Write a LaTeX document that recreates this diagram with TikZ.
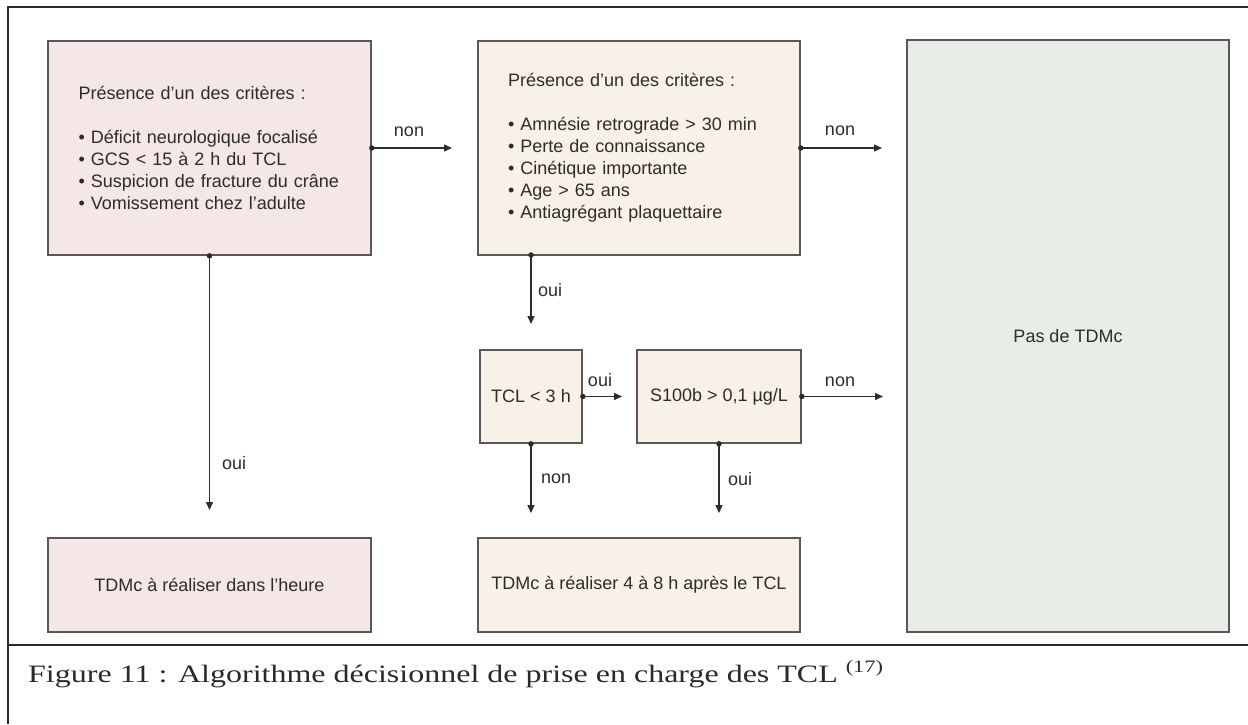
\documentclass[tikz,border=0pt]{standalone}
\usepackage{fontspec}
\setmainfont{Liberation Sans}
\newfontfamily\capfont[FakeStretch=1.28]{Liberation Serif}
\usetikzlibrary{arrows.meta,calc}
\definecolor{pinkfill}{HTML}{F4E7E5}
\definecolor{creamfill}{HTML}{F8F1E7}
\definecolor{greenfill}{HTML}{E8EDE6}
\definecolor{boxline}{HTML}{585858}
\definecolor{txt}{HTML}{2C2C2C}
\definecolor{framecol}{HTML}{2A2A2A}
\begin{document}
\begin{tikzpicture}[x=1pt,y=-1pt,
  box/.style={draw=boxline,line width=1.7pt,inner sep=0pt,text=txt,
    font=\fontsize{18}{22}\selectfont},
  conn/.style={draw=txt,line width=1.4pt,-{Triangle[length=8pt,width=7pt]}},
  lbl/.style={text=txt,font=\fontsize{18}{22}\selectfont,inner sep=0pt},
  dotmark/.style={circle,fill=txt,inner sep=0pt,minimum size=5.5pt},
  framel/.style={draw=framecol,line width=2pt}]
\useasboundingbox (0,0) rectangle (1248,724);
% frame
\coordinate (f0) at (1248,7);
\coordinate (f1) at (8,7);
\coordinate (f2) at (8,724);
\coordinate (d0) at (8,645);
\coordinate (d1) at (1248,645);
\draw[framel] (f0) -- (f1) -- (f2);
\draw[framel] (d0) -- (d1);
% boxes
\node[box,fill=pinkfill,minimum width=323pt,minimum height=214pt,text width=262pt,align=left]
  (A) at (209.5,148) {Présence d’un des critères :\\[22pt]• Déficit neurologique focalisé\\• GCS < 15 à 2 h du TCL\\• Suspicion de fracture du crâne\\• Vomissement chez l’adulte};
\node[box,fill=creamfill,minimum width=322pt,minimum height=214pt,text width=262pt,align=left]
  (B) at (639,148) {Présence d’un des critères :\\[22pt]• Amnésie retrograde > 30 min\\• Perte de connaissance\\• Cinétique importante\\• Age > 65 ans\\• Antiagrégant plaquettaire};
\node[box,fill=greenfill,minimum width=322pt,minimum height=592pt] (C) at (1068,336) {Pas de TDMc};
\node[box,fill=pinkfill,minimum width=323pt,minimum height=94pt] (D) at (209.5,585) {TDMc à réaliser dans l’heure};
\node[box,fill=creamfill,minimum width=322pt,minimum height=94pt] (E) at (639,585) {TDMc à réaliser 4 à 8 h après le TCL};
\node[box,fill=creamfill,minimum width=102pt,minimum height=93pt] (F) at (531,396.5) {TCL < 3 h};
\node[box,fill=creamfill,minimum width=164pt,minimum height=93pt] (G) at (719,396.5) {S100b > 0,1 µg/L};
% connector ends
\coordinate (ea) at (452,148);
\coordinate (eb) at (882,148);
\coordinate (ed) at (209.5,510);
\coordinate (bs) at (531,255);
\coordinate (ef) at (531,324);
\coordinate (efg) at (622,396.5);
\coordinate (eg) at (883,396.5);
\coordinate (efd) at (531,513);
\coordinate (egd) at (719,513);
% connectors
\draw[conn] (A.east) -- (ea);
\draw[conn] (B.east) -- (eb);
\draw[conn] (A.south) -- (ed);
\draw[conn] (bs) -- (ef);
\draw[conn] (F.east) -- (efg);
\draw[conn] (G.east) -- (eg);
\draw[conn] (F.south) -- (efd);
\draw[conn] (G.south) -- (egd);
% dots
\node[dotmark] at (A.east) {};
\node[dotmark] at (B.east) {};
\node[dotmark] at (A.south) {};
\node[dotmark] at (bs) {};
\node[dotmark] at (F.east) {};
\node[dotmark] at (G.east) {};
\node[dotmark] at (F.south) {};
\node[dotmark] at (G.south) {};
% labels
\node[lbl] (l1) at (409,132) {non};
\node[lbl] (l2) at (840,131) {non};
\node[lbl,anchor=west] (l3) at (222,463) {oui};
\node[lbl,anchor=west] (l4) at (538,290) {oui};
\node[lbl] (l5) at (600,380) {oui};
\node[lbl] (l6) at (840,382) {non};
\node[lbl,anchor=west] (l7) at (541,479) {non};
\node[lbl,anchor=west] (l8) at (728,479) {oui};
% caption
\node[anchor=base west,inner sep=0pt,text=framecol,font={\capfont\fontsize{25}{30}\selectfont}]
  (cap) at (28,682) {Figure 11 : Algorithme décisionnel de prise en charge des TCL \textsuperscript{(17)}};
\end{tikzpicture}
\end{document}
